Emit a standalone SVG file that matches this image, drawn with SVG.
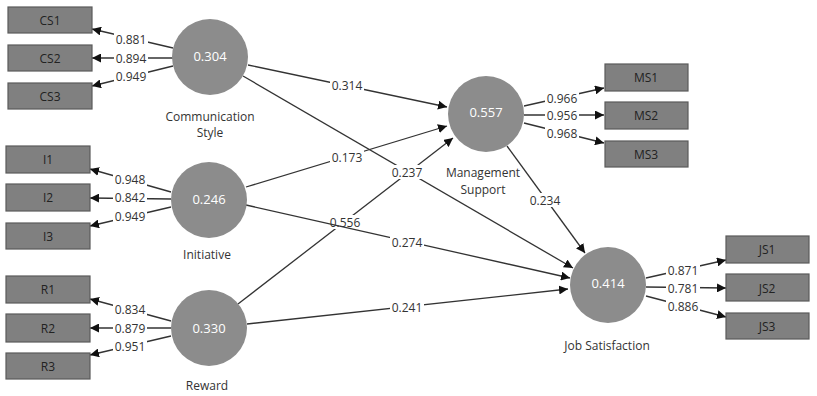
<svg xmlns="http://www.w3.org/2000/svg" width="817" height="396" viewBox="0 0 817 396">
<defs>
<marker id="ah" viewBox="0 0 10 10" refX="10" refY="5" markerWidth="9" markerHeight="9" markerUnits="userSpaceOnUse" orient="auto">
<path d="M0,0 L10,5 L0,10 z" fill="#111"/>
</marker>
<style>
.ind{fill:#808080;stroke:#5a5a5a;stroke-width:1.2}
.lv{fill:#8c8c8c}
.it{font-family:"Open Sans","Noto Sans",sans-serif;font-size:12px;fill:#222;text-anchor:middle;dominant-baseline:central}
.ct{font-family:"Open Sans","Noto Sans",sans-serif;font-size:13px;fill:#fff;text-anchor:middle;dominant-baseline:central}
.nl{font-family:"Open Sans","Noto Sans",sans-serif;font-size:12px;fill:#333;text-anchor:middle}
.el{stroke:#333;stroke-width:1.3;fill:none;marker-end:url(#ah)}
.bg{fill:#fff}
.lb{font-family:"Open Sans","Noto Sans",sans-serif;font-size:12px;fill:#333;text-anchor:middle;dominant-baseline:central}
</style>
</defs>
<rect width="817" height="396" fill="#fff"/>
<g id="connectors">
<line class="el" x1="173" y1="48" x2="92" y2="29"/>
<line class="el" x1="173" y1="58" x2="92" y2="58"/>
<line class="el" x1="173" y1="66" x2="92" y2="86"/>
<line class="el" x1="171" y1="192" x2="90" y2="169"/>
<line class="el" x1="171" y1="199" x2="90" y2="198"/>
<line class="el" x1="171" y1="207" x2="90" y2="226"/>
<line class="el" x1="171" y1="321" x2="90" y2="299"/>
<line class="el" x1="171" y1="328" x2="90" y2="328"/>
<line class="el" x1="171" y1="336" x2="90" y2="355"/>
<line class="el" x1="524" y1="106" x2="604" y2="88"/>
<line class="el" x1="524" y1="115" x2="604" y2="115"/>
<line class="el" x1="524" y1="123" x2="604" y2="143"/>
<line class="el" x1="646" y1="278" x2="726" y2="260"/>
<line class="el" x1="646" y1="287" x2="726" y2="288"/>
<line class="el" x1="646" y1="296" x2="726" y2="317"/>
<line class="el" x1="248" y1="65" x2="447" y2="107"/>
<line class="el" x1="243" y1="76" x2="573" y2="268"/>
<line class="el" x1="246" y1="187" x2="447" y2="126"/>
<line class="el" x1="238" y1="304" x2="453" y2="138"/>
<line class="el" x1="247" y1="324" x2="568" y2="289"/>
<line class="el" x1="507" y1="146" x2="585" y2="253"/>
<rect class="bg" x="114" y="32" width="34" height="14"/><text class="lb" x="131" y="39">0.881</text>
<rect class="bg" x="114" y="51" width="34" height="14"/><text class="lb" x="131" y="58">0.894</text>
<rect class="bg" x="114" y="69" width="34" height="14"/><text class="lb" x="131" y="76">0.949</text>
<rect class="bg" x="113" y="172" width="34" height="14"/><text class="lb" x="130" y="179">0.948</text>
<rect class="bg" x="113" y="190" width="34" height="14"/><text class="lb" x="130" y="197">0.842</text>
<rect class="bg" x="113" y="209" width="34" height="14"/><text class="lb" x="130" y="216">0.949</text>
<rect class="bg" x="113" y="302" width="34" height="14"/><text class="lb" x="130" y="309">0.834</text>
<rect class="bg" x="113" y="321" width="34" height="14"/><text class="lb" x="130" y="328">0.879</text>
<rect class="bg" x="113" y="339" width="34" height="14"/><text class="lb" x="130" y="346">0.951</text>
<rect class="bg" x="545" y="91" width="34" height="14"/><text class="lb" x="562" y="98">0.966</text>
<rect class="bg" x="545" y="108" width="34" height="14"/><text class="lb" x="562" y="115">0.956</text>
<rect class="bg" x="545" y="126" width="34" height="14"/><text class="lb" x="562" y="133">0.968</text>
<rect class="bg" x="666" y="263" width="34" height="14"/><text class="lb" x="683" y="270">0.871</text>
<rect class="bg" x="666" y="281" width="34" height="14"/><text class="lb" x="683" y="288">0.781</text>
<rect class="bg" x="666" y="299" width="34" height="14"/><text class="lb" x="683" y="306">0.886</text>
<rect class="bg" x="330" y="78" width="34" height="14"/><text class="lb" x="347" y="85">0.314</text>
<rect class="bg" x="390" y="165" width="34" height="14"/><text class="lb" x="407" y="172">0.237</text>
<rect class="bg" x="330" y="150" width="34" height="14"/><text class="lb" x="347" y="157">0.173</text>
<rect class="bg" x="328" y="215" width="34" height="14"/><text class="lb" x="345" y="222">0.556</text>
<rect class="bg" x="390" y="300" width="34" height="14"/><text class="lb" x="407" y="307">0.241</text>
<rect class="bg" x="528" y="193" width="34" height="14"/><text class="lb" x="545" y="200">0.234</text>
<line class="el" x1="246" y1="205" x2="570" y2="278"/>
<rect class="bg" x="390" y="235" width="34" height="14"/><text class="lb" x="407" y="242">0.274</text>
</g>
<g id="CS1"><rect class="ind" x="8" y="7" width="84" height="26"/><text class="it" x="50" y="20">CS1</text></g>
<g id="CS2"><rect class="ind" x="8" y="45" width="84" height="26"/><text class="it" x="50" y="58">CS2</text></g>
<g id="CS3"><rect class="ind" x="8" y="83" width="84" height="26"/><text class="it" x="50" y="96">CS3</text></g>
<g id="I1"><rect class="ind" x="6" y="146" width="84" height="27"/><text class="it" x="48" y="159">I1</text></g>
<g id="I2"><rect class="ind" x="6" y="184" width="84" height="27"/><text class="it" x="48" y="197">I2</text></g>
<g id="I3"><rect class="ind" x="6" y="223" width="84" height="26"/><text class="it" x="48" y="236">I3</text></g>
<g id="R1"><rect class="ind" x="6" y="276" width="84" height="27"/><text class="it" x="48" y="289">R1</text></g>
<g id="R2"><rect class="ind" x="6" y="314" width="84" height="28"/><text class="it" x="48" y="328">R2</text></g>
<g id="R3"><rect class="ind" x="6" y="353" width="84" height="26"/><text class="it" x="48" y="366">R3</text></g>
<g id="MS1"><rect class="ind" x="605" y="64" width="83" height="27"/><text class="it" x="646" y="77">MS1</text></g>
<g id="MS2"><rect class="ind" x="605" y="102" width="83" height="27"/><text class="it" x="646" y="115">MS2</text></g>
<g id="MS3"><rect class="ind" x="605" y="141" width="83" height="26"/><text class="it" x="646" y="154">MS3</text></g>
<g id="JS1"><rect class="ind" x="726" y="236" width="83" height="27"/><text class="it" x="767" y="249">JS1</text></g>
<g id="JS2"><rect class="ind" x="726" y="274" width="83" height="27"/><text class="it" x="767" y="288">JS2</text></g>
<g id="JS3"><rect class="ind" x="726" y="313" width="83" height="26"/><text class="it" x="767" y="326">JS3</text></g>
<g id="CommunicationStyle"><circle class="lv" cx="210" cy="57" r="38"/><text class="ct" x="210" y="56">0.304</text><text class="nl" x="210" y="121">Communication</text><text class="nl" x="210" y="137">Style</text></g>
<g id="Initiative"><circle class="lv" cx="209" cy="200" r="38"/><text class="ct" x="209" y="199">0.246</text><text class="nl" x="207" y="259">Initiative</text></g>
<g id="Reward"><circle class="lv" cx="209" cy="328" r="38"/><text class="ct" x="209" y="328">0.330</text><text class="nl" x="207" y="390">Reward</text></g>
<g id="ManagementSupport"><circle class="lv" cx="486" cy="114" r="38"/><text class="ct" x="486" y="112">0.557</text><text class="nl" x="483" y="177">Management</text><text class="nl" x="483" y="194">Support</text></g>
<g id="JobSatisfaction"><circle class="lv" cx="608" cy="285" r="38"/><text class="ct" x="608" y="283">0.414</text><text class="nl" x="607" y="350">Job Satisfaction</text></g>
</svg>
